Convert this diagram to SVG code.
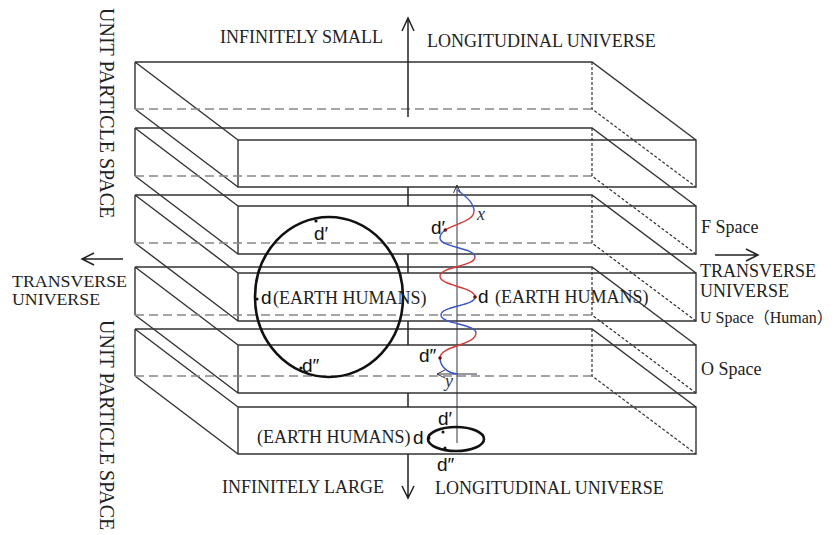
<svg xmlns="http://www.w3.org/2000/svg" width="840" height="535" viewBox="0 0 840 535">
<style>
.s{fill:none;stroke:#333;stroke-width:1.4}
.h{fill:none;stroke:#888;stroke-width:1.3;stroke-dasharray:9 5}
.p{fill:none;stroke:#333;stroke-width:1.2;stroke-dasharray:3 2}
.ax{fill:none;stroke:#222;stroke-width:1.5}
.ell{fill:none;stroke:#111;stroke-width:2.6}
.t{font-family:"Liberation Serif","Times New Roman",serif;font-size:18px;fill:#222}
.d{font-family:"Liberation Sans","DejaVu Sans",sans-serif;font-size:19px;fill:#111}
.v{font-family:"Liberation Serif","Times New Roman",serif;font-size:18px;font-style:italic;fill:#333}
.cj{font-family:"Liberation Serif","Noto Sans CJK SC",serif}
.r{fill:none;stroke:#d43a3a;stroke-width:1.4}
.b{fill:none;stroke:#3a55c8;stroke-width:1.4}
.thin{fill:none;stroke:#334;stroke-width:1}
</style>

<g id="slab1">
<path class="s" d="M135,62 H592 L696,140 M238,140 H696 V187 H238 Z M135,62 V109 M135,62 L238,140 M135,109 L238,187"/>
<path class="h" d="M135,109 H592"/>
<path class="p" d="M592,62 V109 L696,187"/>
</g>
<g id="slab2">
<path class="s" d="M135,128 H592 L696,206 M238,206 H696 V254 H238 Z M135,128 V176 M135,128 L238,206 M135,176 L238,254"/>
<path class="h" d="M135,176 H592"/>
<path class="p" d="M592,128 V176 L696,254"/>
</g>
<g id="slab3">
<path class="s" d="M135,195 H592 L696,273 M238,273 H696 V321 H238 Z M135,195 V243 M135,195 L238,273 M135,243 L238,321"/>
<path class="h" d="M135,243 H592"/>
<path class="p" d="M592,195 V243 L696,321"/>
</g>
<g id="slab4">
<path class="s" d="M135,267 H592 L696,345 M238,345 H696 V393 H238 Z M135,267 V315 M135,267 L238,345 M135,315 L238,393"/>
<path class="h" d="M135,315 H592"/>
<path class="p" d="M592,267 V315 L696,393"/>
</g>
<g id="slab5">
<path class="s" d="M135,329 H592 L696,407 M238,407 H696 V454 H238 Z M135,329 V376 M135,329 L238,407 M135,376 L238,454"/>
<path class="h" d="M135,376 H592"/>
<path class="p" d="M592,329 V376 L696,454"/>
</g>

<g id="connectors">
<path class="ax" d="M408,117 V18 M402,31 L408,18 L414,31"/>
<path class="ax" d="M408,187 V206 M408,254 V273 M408,321 V345 M408,393 V407"/>
<path class="ax" d="M408,454 V498 M402,486 L408,498 L414,486"/>
<path class="ax" d="M123,259 H82 M94,253 L82,259 L94,265"/>
<path class="ax" d="M715,255 H758 M746,249 L758,255 L746,261"/>
<path class="thin" d="M457,443 V185 M453.5,193 L457,185 L460.5,193"/>
<path class="thin" d="M477,374 H437 M445,370 L437,374 L445,378"/>
</g>

<g id="wave">
<path class="b" d="M457,190 C463,194 474,202 474,211"/>
<path class="r" d="M474,211 C474,221.1 454.9,223.7 445.3,230"/>
<path class="b" d="M445.3,230 C442.1,232.1 440,234.6 440,238 C440,247.5 475,247.5 475,257"/>
<path class="r" d="M475,257 C475,266.5 440,266.5 440,276 C440,286.5 475,286.5 475,297"/>
<path class="b" d="M475,297 C475,306 441,306 441,315 C441,324 476,324 476,333"/>
<path class="r" d="M476,333 C476,345.5 440,345.5 440,358"/>
<path class="b" d="M440,358 C440,366 447,373 457,374"/>
<circle cx="445.3" cy="230" r="1.8" fill="#6a1010"/>
<circle cx="475" cy="297" r="1.8" fill="#6a1010"/>
<circle cx="440" cy="358" r="1.8" fill="#6a1010"/>
<text class="v" x="477" y="220">x</text>
<text class="v" x="445" y="387">y</text>
<text class="d" x="431" y="234">d′</text>
<text class="d" x="478" y="303">d</text>
<text class="t" x="495" y="303">(EARTH HUMANS)</text>
<text class="d" x="419" y="362">d″</text>
</g>

<g id="big-ellipse">
<ellipse class="ell" cx="329" cy="297" rx="74" ry="80"/>
<circle cx="316" cy="221" r="1.6" fill="#111"/>
<circle cx="257" cy="299" r="1.6" fill="#111"/>
<circle cx="301" cy="368" r="1.6" fill="#111"/>
<text class="d" x="314" y="240">d′</text>
<text class="d" x="261" y="304">d</text>
<text class="t" x="273" y="304">(EARTH HUMANS)</text>
<text class="d" x="302" y="372">d″</text>
</g>

<g id="small-ellipse">
<ellipse class="ell" cx="456" cy="439" rx="28" ry="12"/>
<circle cx="443" cy="432" r="1.5" fill="#111"/>
<circle cx="429" cy="438" r="1.5" fill="#111"/>
<circle cx="445" cy="448" r="1.5" fill="#111"/>
<text class="d" x="438" y="425">d′</text>
<text class="t" x="257" y="443">(EARTH HUMANS)</text>
<text class="d" x="413" y="444">d</text>
<text class="d" x="437" y="471">d″</text>
</g>

<g id="labels">
<text class="t" x="220" y="43">INFINITELY SMALL</text>
<text class="t" x="427" y="47">LONGITUDINAL UNIVERSE</text>
<text class="t" x="222" y="493">INFINITELY LARGE</text>
<text class="t" x="435" y="494">LONGITUDINAL UNIVERSE</text>
<text class="t" x="12" y="287" style="font-size:16px" textLength="115" lengthAdjust="spacingAndGlyphs">TRANSVERSE</text>
<text class="t" x="12" y="305" style="font-size:16px" textLength="88" lengthAdjust="spacingAndGlyphs">UNIVERSE</text>
<text class="t" x="700" y="277">TRANSVERSE</text>
<text class="t" x="700" y="297">UNIVERSE</text>
<text class="t" x="701" y="233">F Space</text>
<text class="t cj" x="700" y="323" style="font-size:16px">U Space（Human）</text>
<text class="t" x="701" y="375">O Space</text>
<text class="t" transform="translate(100,8) rotate(90)" style="font-size:20px">UNIT PARTICLE SPACE</text>
<text class="t" transform="translate(100,320) rotate(90)" style="font-size:20px">UNIT PARTICLE SPACE</text>
</g>
</svg>
